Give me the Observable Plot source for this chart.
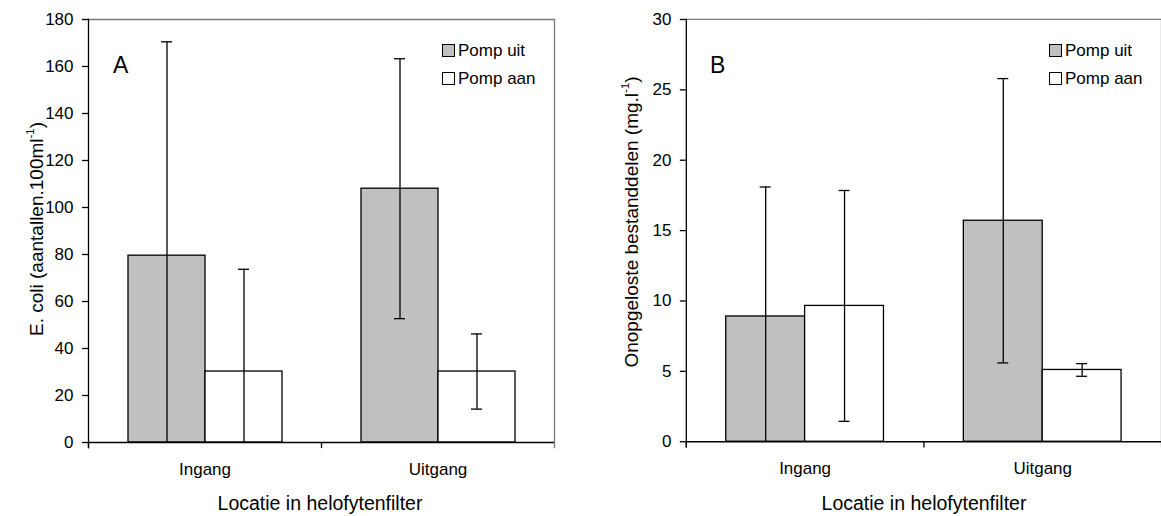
<!DOCTYPE html>
<html>
<head>
<meta charset="utf-8">
<script src="https://cdn.jsdelivr.net/npm/d3@7"></script>
<script src="https://cdn.jsdelivr.net/npm/@observablehq/plot@0.6"></script>
<style>
  html, body { margin: 0; padding: 0; background: #fff; }
  body { font-family: "Liberation Sans", Arial, sans-serif; color: #000; }
  #wrap { position: relative; width: 1161px; height: 516px; overflow: hidden; background: #fff; }
  .panel { position: absolute; top: 0; }
  .txt { position: absolute; white-space: nowrap; line-height: 1; }
  .ytitle { position: absolute; white-space: nowrap; line-height: 1; font-size: 19px; transform: translate(-50%, -50%) rotate(-90deg); }
  .sup { font-size: 0.6em; position: relative; top: -0.75em; }
  .sw { position: absolute; width: 11px; height: 11px; border: 1px solid #000; }
</style>
</head>
<body>
<div id="wrap"></div>
<script>
// ---- Data ----
const locations = ["Ingang", "Uitgang"];
const pumps = ["Pomp uit", "Pomp aan"];
const pumpColors = ["#c0c0c0", "#ffffff"];

// Panel A: E. coli (aantallen.100ml-1)
const ecoliUit = [79.5, 108];
const ecoliUitErr = [91, 55.3];
const ecoliAan = [30.2, 30.2];
const ecoliAanErr = [43.5, 16];
const ecoliTicks = [0, 20, 40, 60, 80, 100, 120, 140, 160, 180];

// Panel B: Onopgeloste bestanddelen (mg.l-1)
const tssUit = [8.9, 15.7];
const tssUitErr = [9.2, 10.1];
const tssAan = [9.65, 5.1];
const tssAanErr = [8.2, 0.45];
const tssTicks = [0, 5, 10, 15, 20, 25, 30];

function buildRows(uit, uitErr, aan, aanErr) {
  const rows = [];
  locations.forEach((loc, i) => {
    [[pumps[0], uit[i], uitErr[i]], [pumps[1], aan[i], aanErr[i]]].forEach(([pump, v, e]) => {
      rows.push({loc, pump, value: v, lo: Math.max(0, v - e), hi: v + e});
    });
  });
  return rows;
}

const H = 516, MT = 19, MB = 74;

function panel({rows, ticks, width, marginLeft, marginRight, capInset}) {
  const yMax = ticks[ticks.length - 1];
  return Plot.plot({
    width, height: H,
    marginTop: MT, marginBottom: MB, marginLeft, marginRight,
    style: {fontFamily: "'Liberation Sans', Arial, sans-serif", color: "#000", background: "transparent", overflow: "visible"},
    fx: {domain: locations, padding: 0, label: null},
    x: {domain: pumps, paddingInner: 0, paddingOuter: 0.5, axis: null},
    y: {domain: [0, yMax], label: null},
    color: {domain: pumps, range: pumpColors},
    marks: [
      Plot.barY(rows, {fx: "loc", x: "pump", y: "value", fill: "pump", stroke: "#000", strokeWidth: 1.3}),
      Plot.ruleX(rows, {fx: "loc", x: "pump", y1: "lo", y2: "hi", stroke: "#000", strokeWidth: 1.3}),
      Plot.tickY(rows, {fx: "loc", x: "pump", y: "hi", stroke: "#000", strokeWidth: 1.3, insetLeft: capInset, insetRight: capInset}),
      Plot.tickY(rows.filter(d => d.lo > 0), {fx: "loc", x: "pump", y: "lo", stroke: "#000", strokeWidth: 1.3, insetLeft: capInset, insetRight: capInset}),
      Plot.ruleY([yMax], {stroke: "#7a7a7a", strokeWidth: 1.3}),
      Plot.frame({anchor: "right", facetAnchor: "right", stroke: "#7a7a7a", strokeWidth: 1.3, insetBottom: -5}),
      Plot.frame({anchor: "left", stroke: "#000", strokeWidth: 1.3, insetTop: H - MT - MB, insetBottom: -5}),
      Plot.frame({anchor: "left", facetAnchor: "left", stroke: "#000", strokeWidth: 1.3, insetBottom: -5}),
      Plot.ruleY([0], {stroke: "#000", strokeWidth: 1.3}),
      Plot.axisY({ticks, tickSize: 6, tickPadding: 9, label: null, fontSize: 17, strokeWidth: 1.3}),
      Plot.axisFx({anchor: "bottom", tickSize: 0, tickPadding: 20, label: null, fontSize: 17})
    ]
  });
}

const wrap = document.getElementById("wrap");

const left = document.createElement("div");
left.className = "panel"; left.style.left = "0px";
left.appendChild(panel({rows: buildRows(ecoliUit, ecoliUitErr, ecoliAan, ecoliAanErr), ticks: ecoliTicks, width: 580, marginLeft: 87, marginRight: 26, capInset: 33}));
wrap.appendChild(left);

const right = document.createElement("div");
right.className = "panel"; right.style.left = "580px";
right.appendChild(panel({rows: buildRows(tssUit, tssUitErr, tssAan, tssAanErr), ticks: tssTicks, width: 582, marginLeft: 106, marginRight: 0, capInset: 34}));
wrap.appendChild(right);

// ---- Text overlays ----
function addText(html, css) {
  const d = document.createElement("div");
  d.className = "txt";
  d.innerHTML = html;
  Object.assign(d.style, css);
  wrap.appendChild(d);
  return d;
}
function addYTitle(html, x, y) {
  const d = document.createElement("div");
  d.className = "ytitle";
  d.innerHTML = html;
  d.style.left = x + "px"; d.style.top = y + "px";
  wrap.appendChild(d);
}
function addSwatch(color, x, y) {
  const d = document.createElement("div");
  d.className = "sw";
  d.style.left = x + "px"; d.style.top = y + "px"; d.style.background = color;
  wrap.appendChild(d);
}

const xTitle = "Locatie in helofytenfilter";
addText(xTitle, {left: "320px", top: "494px", fontSize: "19.5px", transform: "translateX(-50%)"});
addText(xTitle, {left: "924px", top: "494px", fontSize: "19.5px", transform: "translateX(-50%)"});

addYTitle('E. coli (aantallen.100ml<span class="sup">-1</span>)', 35.5, 229);
addYTitle('Onopgeloste bestanddelen (mg.l<span class="sup">-1</span>)', 631, 222);

addText("A", {left: "113px", top: "54px", fontSize: "23px"});
addText("B", {left: "710px", top: "54px", fontSize: "23px"});

// Legends
const legendPos = [{sx: 442, tx: 458}, {sx: 1049, tx: 1065}];
legendPos.forEach(({sx, tx}) => {
  pumps.forEach((p, i) => {
    const y = 44 + i * 28;
    addSwatch(pumpColors[i], sx, y);
    addText(p, {left: tx + "px", top: (y - 2.5) + "px", fontSize: "17px"});
  });
});
</script>
</body>
</html>
